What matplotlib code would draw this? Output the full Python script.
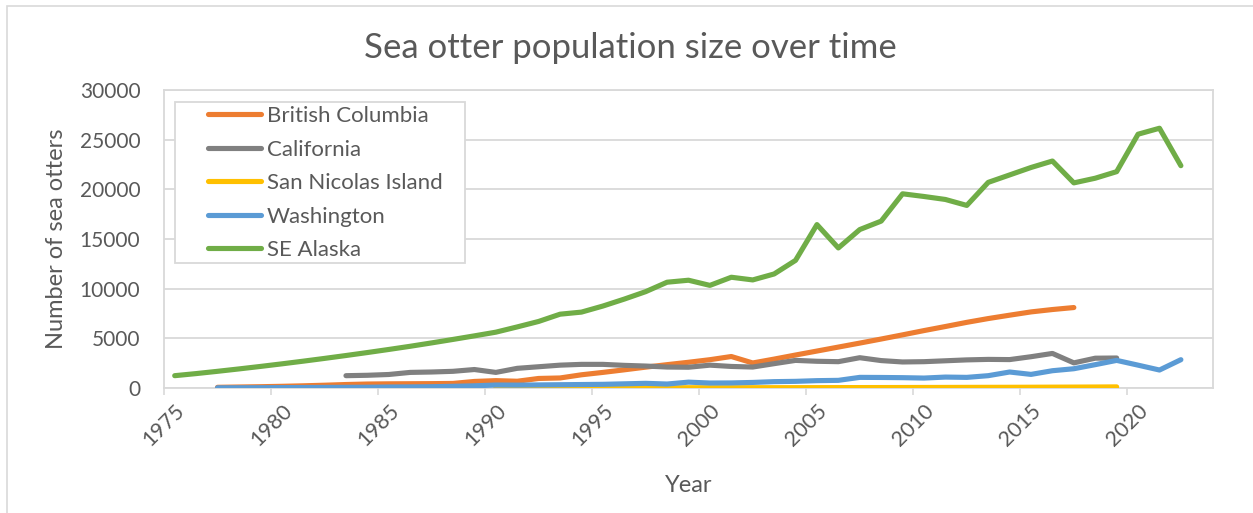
import matplotlib
matplotlib.use("Agg")
import matplotlib.pyplot as plt
from matplotlib.patches import Rectangle
import numpy as np

plt.rcParams['font.family'] = ['Lato', 'DejaVu Sans']

# ---- data ----
se_alaska_years = list(range(1975, 2023))
se_alaska = [1240, 1450, 1680, 1920, 2170, 2430, 2700, 2980, 3270, 3570,
             3880, 4200, 4540, 4890, 5250, 5620, 6150, 6700, 7430, 7640,
             8250, 8950, 9700, 10650, 10850, 10330, 11150, 10880, 11480, 12850,
             16450, 14100, 15950, 16800, 19550, 19280, 18980, 18380, 20700, 21450,
             22200, 22850, 20650, 21120, 21780, 25550, 26150, 22380]

bc_years = list(range(1977, 2018))
british_columbia = [70, 100, 130, 170, 220, 280, 350, 400, 420, 430,
                    440, 460, 660, 740, 680, 960, 1010, 1330, 1570, 1830,
                    2100, 2350, 2590, 2850, 3170, 2520, 2910, 3320, 3720, 4120,
                    4520, 4930, 5350, 5780, 6190, 6610, 6990, 7330, 7660, 7900,
                    8100]

ca_years = list(range(1983, 2020))
california = [1240, 1280, 1360, 1570, 1610, 1680, 1860, 1570, 1980, 2140,
              2300, 2380, 2380, 2280, 2210, 2110, 2090, 2300, 2170, 2110,
              2450, 2780, 2690, 2650, 3050, 2760, 2620, 2650, 2740, 2830,
              2880, 2860, 3150, 3480, 2530, 3000, 3020]

sni_years = list(range(1990, 2020))
san_nicolas = [15, 14, 15, 17, 16, 18, 21, 23, 25, 28,
               27, 29, 31, 33, 35, 38, 41, 44, 47, 50,
               55, 58, 64, 68, 72, 78, 86, 92, 100, 112]

wa_years = list(range(1977, 2023))
washington = [20, 25, 30, 40, 50, 60, 70, 80, 100, 110,
              130, 170, 220, 300, 290, 310, 330, 350, 370, 420,
              470, 400, 590, 500, 510, 560, 640, 670, 740, 770,
              1070, 1060, 1040, 1000, 1100, 1070, 1240, 1610, 1370, 1740,
              1940, 2350, 2780, 2300, 1810, 2850]

tick_years = list(range(1975, 2021, 5))
y_ticks = list(range(0, 30001, 5000))

series = [
    ("British Columbia", bc_years, british_columbia, "#ED7D31"),
    ("California", ca_years, california, "#808080"),
    ("San Nicolas Island", sni_years, san_nicolas, "#FFC000"),
    ("Washington", wa_years, washington, "#5B9BD5"),
    ("SE Alaska", se_alaska_years, se_alaska, "#70AD47"),
]

W, H = 1253, 513
AX_L, AX_R, AX_T, AX_B = 164, 1213, 90, 388
aw, ah = AX_R - AX_L, AX_B - AX_T

fig = plt.figure(figsize=(W / 100, H / 100), dpi=100)
ax = fig.add_axes([AX_L / W, 1 - AX_B / H, aw / W, ah / H])

text_col = "#595959"
grid_col = "#D9D9D9"

for name, xs, ys, col in series:
    ax.plot(xs, ys, color=col, lw=3.7, solid_capstyle='round',
            solid_joinstyle='round', label=name, zorder=3)

# category-style x axis: one slot per year, ticks between slots
ax.set_xlim(1974.5, 2023.5)
ax.set_ylim(0, 30000)
ax.set_xticks(tick_years)
ax.set_xticklabels([str(t) for t in tick_years], rotation=45,
                   ha='right', va='top', rotation_mode='anchor')
ax.set_xticks(np.arange(1974.5, 2023, 5), minor=True)
ax.tick_params(axis='x', which='major', length=0, pad=9,
               labelsize=15.5, labelcolor=text_col)
ax.tick_params(axis='x', which='minor', length=5, width=1.2, color=grid_col)
ax.set_yticks(y_ticks)
ax.tick_params(axis='y', length=0, pad=17, labelsize=15, labelcolor=text_col)

ax.grid(axis='y', color=grid_col, lw=1.3, zorder=0)
ax.set_axisbelow(True)
for s in ax.spines.values():
    s.set_color(grid_col)
    s.set_linewidth(1.3)

ax.set_xlabel("Year", fontsize=17, color=text_col, va='center')
ax.xaxis.set_label_coords(0.5, (AX_B - 486) / ah)
ax.set_ylabel("Number of sea otters", fontsize=17, color=text_col, va='center')
ax.yaxis.set_label_coords((57 - AX_L) / aw, 0.5)
fig.text(630 / W, 1 - 48 / H, "Sea otter population size over time",
         ha='center', va='center', fontsize=25, color=text_col)

# legend box (Excel-style, extra room at the left of the handles)
ax.add_patch(Rectangle(((175 - AX_L) / aw, (AX_B - 263) / ah), 290 / aw, 161 / ah,
                       transform=ax.transAxes, facecolor='white',
                       edgecolor=grid_col, lw=1.3, zorder=5))
leg = ax.legend(loc='upper left', bbox_to_anchor=((208 - AX_L) / aw, (AX_B - 106) / ah),
                borderaxespad=0, borderpad=0, fontsize=16, frameon=False,
                handlelength=2.39, handletextpad=0.27, labelspacing=0.61,
                labelcolor=text_col)
leg.set_zorder(6)

fig.add_artist(Rectangle((7 / W, -0.1), 1.2, 1.1 - 6 / H, transform=fig.transFigure,
                         fill=False, edgecolor=grid_col, lw=1.2, clip_on=False))

fig.savefig("out.png", dpi=100)
